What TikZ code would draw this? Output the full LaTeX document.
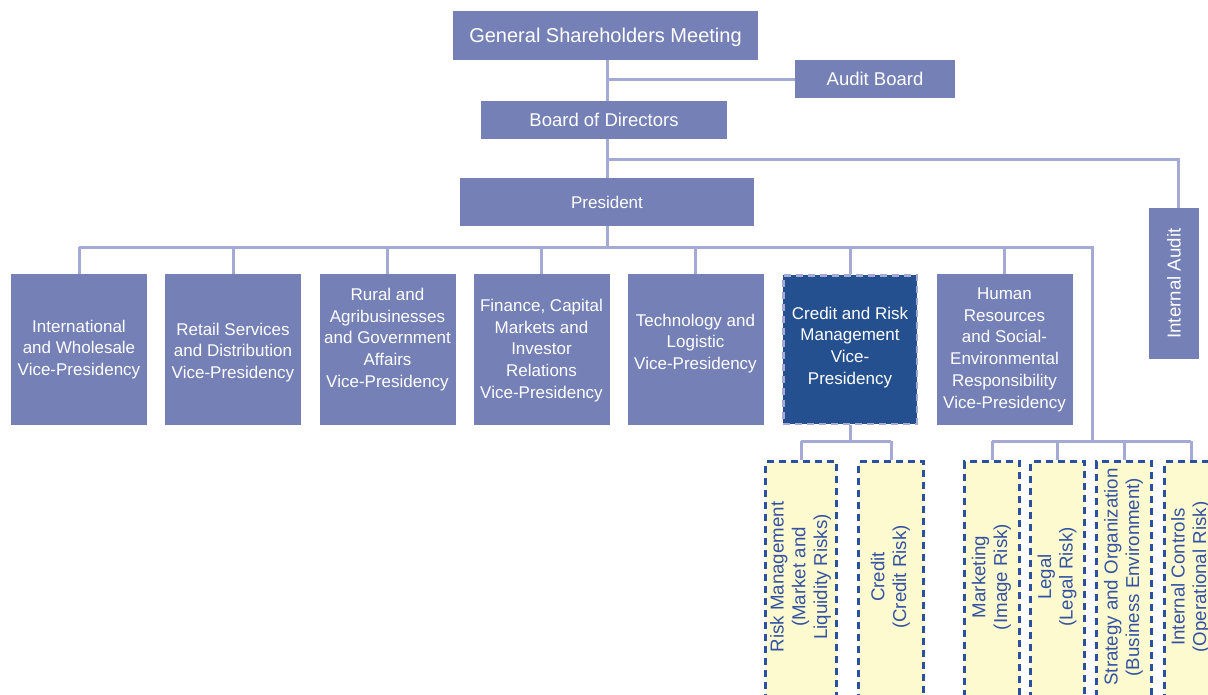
\documentclass[tikz,border=0pt]{standalone}
\usepackage{fontspec}
\setmainfont{Liberation Sans}
\usepackage{graphicx}
\usetikzlibrary{backgrounds}

\definecolor{boxblue}{HTML}{7480B6}
\definecolor{deepblue}{HTML}{25508F}
\definecolor{linelav}{HTML}{A5AAD4}
\definecolor{paleyellow}{HTML}{FEFAD0}
\definecolor{riskblue}{HTML}{2A509E}
\definecolor{risktext}{HTML}{3352A2}

% centred multi-line text, optionally lifted without changing its box
\newcommand\stacked[2][0pt]{\raisebox{#1}[\height][\depth]{\begin{tabular}{@{}c@{}}#2\end{tabular}}}
% the same, set upright along the box
\newcommand\upstacked[2][0pt]{\raisebox{#1}[\height][\depth]{\rotatebox{90}{\begin{tabular}{@{}c@{}}#2\end{tabular}}}}

\tikzset{
  orgbox/.style={rectangle, fill=boxblue, text=white, inner sep=0pt},
  headbox/.style={orgbox, font=\fontsize{20}{24}\selectfont},
  midbox/.style={orgbox, font=\fontsize{18.5}{22}\selectfont},
  vpbox/.style={orgbox, minimum width=136pt, minimum height=151pt,
    font=\fontsize{17}{21.7}\selectfont},
  riskvp/.style={vpbox, fill=deepblue, draw=linelav, line width=2.5pt,
    dash pattern=on 7pt off 5pt, minimum width=133.5pt, minimum height=148.5pt},
  riskbox/.style={rectangle, inner sep=0pt, fill=paleyellow, draw=riskblue,
    line width=3.2pt, dash pattern=on 7pt off 5pt, text=risktext,
    minimum height=250pt, font=\fontsize{18.7}{21.7}\selectfont},
  link/.style={draw=linelav, line width=3pt},
}

\begin{document}
\begin{tikzpicture}[x=1pt,y=-1pt]
\useasboundingbox (0,0) rectangle (1208,694);
\clip (0,0) rectangle (1208,694);

% governance boxes
\node[headbox, minimum width=305pt, minimum height=49pt] (gsm) at (605.5,35.5) {\stacked[-2.5pt]{General Shareholders Meeting}};
\node[midbox, minimum width=160pt, minimum height=38pt] (audit) at (875,79) {Audit Board};
\node[midbox, minimum width=246pt, minimum height=38pt] (board) at (604,120) {Board of Directors};
\node[orgbox, minimum width=294pt, minimum height=48pt, font=\fontsize{17}{20}\selectfont] (pres) at (607,202) {President};
\node[orgbox, minimum width=50pt, minimum height=151pt, font=\fontsize{18.7}{22}\selectfont] (iaudit) at (1174,283.5) {\rotatebox{90}{Internal Audit}};

% vice-presidencies
\node[vpbox] (v1) at (79,349.5) {\stacked{International\\and Wholesale\\Vice-Presidency}};
\node[vpbox] (v2) at (233,349.5) {\stacked[-3pt]{Retail Services\\and Distribution\\Vice-Presidency}};
\node[vpbox] (v3) at (387.5,349.5) {\stacked[10pt]{Rural and\\Agribusinesses\\and Government\\Affairs\\Vice-Presidency}};
\node[vpbox] (v4) at (541.5,349.5) {\stacked[-1pt]{Finance, Capital\\Markets and\\Investor\\Relations\\Vice-Presidency}};
\node[vpbox] (v5) at (695.5,349.5) {\stacked[6pt]{Technology and\\Logistic\\Vice-Presidency}};
\node[riskvp] (v6) at (850,349.5) {\stacked[2pt]{Credit and Risk\\Management\\Vice-\\Presidency}};
\node[vpbox] (v7) at (1004.5,349.5) {\stacked{Human\\Resources\\and Social-\\Environmental\\Responsibility\\Vice-Presidency}};

% risk areas
\node[riskbox, minimum width=71pt] (rm) at (801,586.5) {\upstacked[9.5pt]{Risk Management\\(Market and\\Liquidity Risks)}};
\node[riskbox, minimum width=65pt] (cd) at (891,586.5) {\upstacked[9.5pt]{Credit\\(Credit Risk)}};
\node[riskbox, minimum width=55pt] (mk) at (992,586.5) {\upstacked[9.5pt]{Marketing\\(Image Risk)}};
\node[riskbox, minimum width=54pt] (lg) at (1057.5,586.5) {\upstacked[9.5pt]{Legal\\(Legal Risk)}};
\node[riskbox, minimum width=55pt] (so) at (1124,586.5) {\upstacked[9.5pt]{Strategy and Organization\\(Business Environment)}};
\node[riskbox, minimum width=53pt] (ic) at (1191,586.5) {\upstacked[9.5pt]{Internal Controls\\(Operational Risk)}};

% junction points of the connector tree
\coordinate (iaj) at (607,159);
\coordinate (vpbar) at (607,247);
\coordinate (rb) at (1092,247);
\coordinate (rbj) at (1092,441);
\coordinate (crj) at (850,441);

\begin{pgfonlayer}{background}
  \draw[link] (pres.north |- gsm.south) -- (pres.north);
  \draw[link] (pres.north |- audit.west) -- (audit.west);
  \draw[link] (iaj) -| ([xshift=4pt]iaudit.north);
  \draw[link] (pres.south) -- (vpbar);
  \draw[link] (v1.north |- vpbar) -- (rb) -- (rbj);
  \foreach \v in {v1,v2,v3,v4,v5,v6,v7}
    \draw[link] (\v.north) -- (\v.north |- vpbar);
  \draw[link] (v6.south) -- (crj);
  \draw[link] (rm.north |- crj) -- (cd.north |- crj);
  \foreach \r in {rm,cd}
    \draw[link] (\r.north) -- (\r.north |- crj);
  \draw[link] (mk.north |- rbj) -- (ic.north |- rbj);
  \foreach \r in {mk,lg,so,ic}
    \draw[link] (\r.north) -- (\r.north |- rbj);
\end{pgfonlayer}
\end{tikzpicture}
\end{document}
